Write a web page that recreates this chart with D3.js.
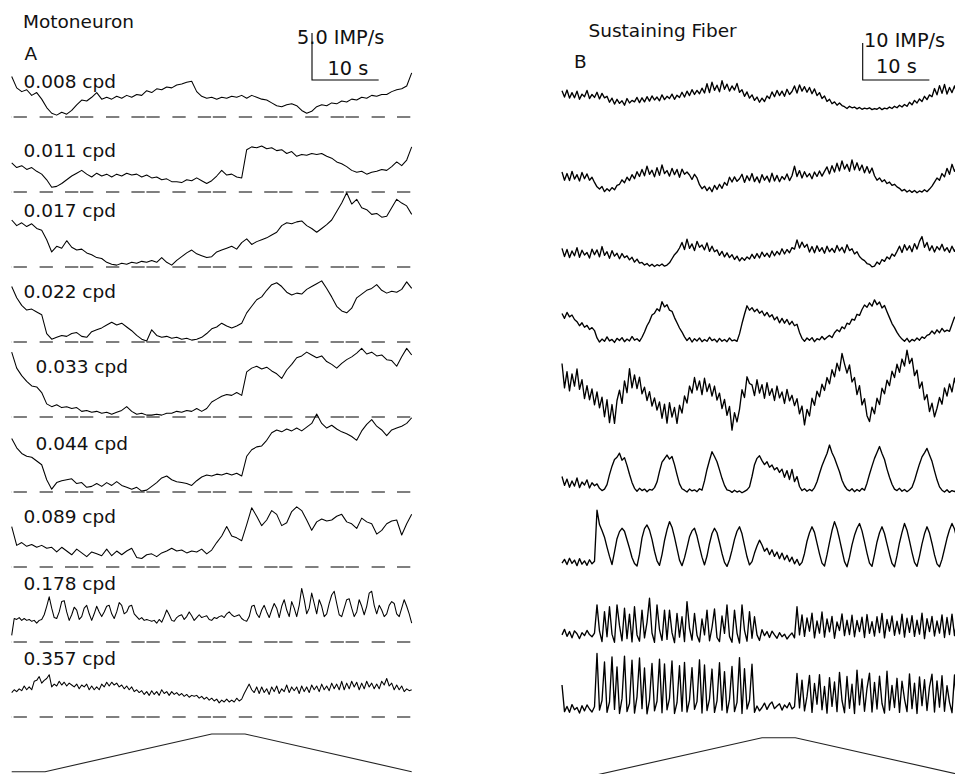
<!DOCTYPE html>
<html>
<head>
<meta charset="utf-8">
<script src="https://cdn.jsdelivr.net/npm/d3@7"></script>
<style>
  body { margin: 0; background: #fff; }
  svg text { font-family: "DejaVu Sans", sans-serif; font-size: 18.5px; fill: #111; }
  svg text.cal { font-size: 19.3px; }
</style>
</head>
<body>
<svg id="chart" width="955" height="774"></svg>
<script>
// Each sweep covers 60 s; every series below is sampled evenly across it (IMP/s).
const SWEEP_SECONDS = 60;

const spatialFreqLabels = ["0.008 cpd", "0.011 cpd", "0.017 cpd", "0.022 cpd", "0.033 cpd",
                           "0.044 cpd", "0.089 cpd", "0.178 cpd", "0.357 cpd"];

// Panel A: motoneuron firing rate (IMP/s)
const mn008 = [4.3,3.1,2.7,2.9,2.3,2.6,1.9,1.0,0.4,0.2,0.5,0.3,0.7,1.3,1.8,1.7,2.1,2.6,1.9,2.1,1.9,2.2,2.0,2.3,2.1,2.4,2.3,2.8,2.6,3.0,2.9,3.2,3.1,3.4,3.5,3.7,3.8,2.7,2.2,2.0,2.1,1.9,2.1,2.0,2.2,2.1,2.3,2.0,2.3,2.1,1.9,1.8,1.5,1.2,1.1,1.3,1.4,1.2,0.7,0.4,0.6,1.1,1.3,1.2,1.5,1.4,1.7,1.6,1.9,1.8,2.1,2.0,2.3,2.2,2.4,2.4,2.7,2.9,3.0,3.3,4.7];
const mn011 = [3.1,2.6,2.8,2.4,2.6,2.2,1.9,1.3,0.5,0.6,0.9,1.3,1.7,2.0,2.3,1.9,1.6,2.0,1.7,1.9,1.6,1.9,1.7,2.0,1.8,1.9,1.6,1.8,1.5,1.6,1.3,1.4,1.1,1.1,1.0,1.3,1.2,1.5,1.2,0.9,1.2,1.7,2.3,1.8,1.9,1.6,1.5,4.5,4.8,4.7,4.9,4.6,4.7,4.4,4.5,4.1,4.3,3.8,4.0,3.9,4.1,4.0,4.1,3.8,3.6,3.2,3.0,2.7,2.3,2.1,2.2,1.9,2.1,2.2,2.4,2.3,2.7,3.2,2.8,3.4,4.8];
const mn017 = [5.0,4.4,4.7,4.3,4.6,4.1,3.9,2.9,1.6,2.2,2.0,2.8,2.1,1.8,1.9,1.5,1.3,1.0,0.9,0.5,0.3,0.2,0.4,0.3,0.5,0.4,0.6,0.5,0.7,0.5,1.0,0.5,0.2,0.7,1.1,1.5,1.8,1.4,1.2,1.0,1.1,1.6,1.8,2.0,2.2,1.9,2.6,3.0,2.4,2.7,2.9,3.1,3.4,3.7,4.4,4.7,4.6,4.8,4.9,4.4,4.1,3.7,4.1,4.5,5.0,5.9,6.8,7.9,6.7,7.2,6.3,6.1,5.6,5.7,5.3,5.4,6.3,7.2,6.8,6.5,5.6];
const mn022 = [5.9,4.7,3.9,3.4,3.5,3.2,2.9,0.9,0.3,0.5,0.7,0.6,0.9,1.0,0.6,0.5,1.1,1.3,1.5,1.8,2.1,1.8,2.0,1.6,1.2,0.7,0.3,0.1,1.3,0.7,0.5,0.6,0.4,0.5,0.3,0.4,0.2,0.3,0.5,0.9,1.4,1.6,2.0,1.7,1.5,1.7,2.0,3.1,3.8,4.5,4.8,5.5,6.1,6.3,5.9,5.3,5.0,5.2,5.1,5.6,5.9,6.2,6.5,5.7,4.8,3.8,3.3,3.1,3.6,4.7,5.1,5.5,5.7,6.1,5.5,5.2,5.4,5.3,5.6,6.4,5.7];
const mn033 = [6.9,5.2,4.4,3.8,3.3,3.2,2.6,1.4,1.1,1.3,1.0,1.1,0.9,1.0,0.6,0.7,0.5,0.6,0.4,0.5,0.3,0.5,0.7,1.1,0.6,0.3,0.4,0.2,0.2,0.3,0.2,0.4,0.4,0.6,0.5,0.7,0.6,0.9,0.6,0.9,1.6,1.9,2.2,2.4,2.3,2.6,2.3,4.8,5.2,5.4,5.1,5.3,4.9,4.6,4.1,5.0,5.6,6.3,6.5,6.9,6.6,6.3,6.5,5.9,5.6,5.2,5.7,6.1,6.4,6.8,7.3,6.7,6.9,6.5,6.6,6.1,6.0,5.4,6.4,7.3,6.6];
const mn044 = [5.7,4.7,4.1,3.8,3.7,3.3,2.9,1.3,0.3,1.0,1.2,1.3,1.4,0.9,1.0,0.5,0.6,0.9,0.6,1.0,0.7,1.1,0.7,0.5,0.3,0.5,0.1,0.2,0.6,1.0,1.5,1.7,1.3,1.1,1.0,0.9,0.7,1.2,1.6,1.8,1.7,1.9,1.8,2.0,1.8,2.0,1.7,3.8,4.5,4.8,4.9,5.5,6.3,6.6,6.4,6.7,6.5,6.8,6.5,6.9,7.3,8.3,7.3,6.8,7.1,6.7,6.4,6.2,5.9,5.5,6.5,7.2,7.7,7.0,6.6,6.0,6.6,6.8,7.0,7.3,7.9];
const mn089 = [4.3,2.3,2.6,2.2,2.4,2.1,2.3,2.0,2.1,1.6,2.1,1.7,1.3,1.9,1.5,1.1,1.6,1.4,1.2,1.9,1.2,1.7,1.3,1.7,2.0,1.0,0.9,1.3,1.4,1.1,1.5,1.7,2.0,1.7,1.8,1.5,1.7,1.6,1.9,1.4,1.8,2.6,3.3,4.3,3.3,3.1,2.8,4.5,6.3,5.4,4.4,5.0,6.0,5.6,4.4,4.7,5.9,6.4,6.0,5.0,3.9,4.8,5.1,4.9,5.0,5.4,5.6,4.8,4.6,4.1,5.2,4.8,4.6,3.5,3.9,4.6,4.9,5.0,3.4,4.6,5.6];
const mn178 = [0.7,2.5,2.4,2.6,2.3,2.5,2.3,2.4,2.2,2.3,2.0,2.3,2.4,2.9,3.8,4.8,3.6,2.6,2.5,3.2,4.3,4.4,3.2,2.3,2.9,3.7,3.4,2.4,2.7,3.6,3.9,3.0,2.3,3.0,3.8,3.2,2.7,3.2,3.8,3.9,3.0,2.5,3.2,4.2,3.9,3.0,3.2,3.8,3.9,3.0,2.7,2.4,2.6,2.3,2.4,2.3,2.2,2.3,2.0,2.4,2.1,2.7,3.4,2.9,2.3,2.2,2.6,2.8,2.9,2.4,2.7,3.2,2.8,2.3,2.6,2.9,2.6,2.7,2.8,2.4,2.3,2.6,2.5,2.7,2.8,2.6,3.0,3.2,2.9,2.7,2.8,2.9,2.5,2.3,2.2,2.7,3.8,3.9,3.0,2.6,3.4,3.9,3.2,2.6,3.4,4.1,3.6,2.6,3.8,4.5,3.4,2.7,4.3,3.6,2.7,3.9,5.7,4.5,3.0,3.6,5.2,4.1,3.0,4.5,3.8,2.7,3.0,4.1,5.0,5.4,4.1,2.9,2.7,3.6,4.5,4.6,3.6,2.7,3.2,4.5,3.8,2.9,3.8,5.2,5.4,3.9,3.0,3.9,3.4,2.7,3.0,3.9,4.3,4.1,3.0,2.7,3.6,4.5,3.8,3.0,2.0];
const mn357 = [2.6,2.9,2.7,3.0,2.8,3.3,2.9,3.2,2.9,3.8,3.9,4.3,3.6,3.9,4.1,4.5,3.2,3.5,3.3,3.8,3.4,3.7,3.3,3.6,3.4,3.2,3.5,3.0,3.4,3.2,3.5,2.9,3.3,2.9,3.2,2.9,3.5,3.2,3.7,3.3,3.7,3.4,3.6,3.2,3.4,3.0,3.3,2.9,3.2,2.7,2.9,2.6,2.8,2.4,2.7,2.3,2.8,2.4,2.7,2.3,2.9,2.5,2.7,2.3,2.7,2.4,2.6,2.3,2.5,2.2,2.4,2.1,2.3,2.2,2.3,2.0,2.2,1.9,2.1,1.8,2.0,1.7,1.9,1.5,1.8,1.6,1.9,1.6,1.8,1.6,2.0,1.7,1.9,2.5,3.0,3.5,2.9,2.6,3.2,2.5,3.2,2.6,3.0,2.4,3.2,2.7,3.3,2.5,3.0,2.7,3.4,2.6,3.2,2.8,3.2,2.5,3.3,2.7,3.2,2.6,3.4,2.9,3.3,2.7,3.5,2.9,3.3,2.8,3.6,3.0,3.5,2.9,3.8,2.9,3.6,3.0,3.8,3.2,3.7,2.9,3.6,3.0,3.8,3.2,3.6,3.0,3.5,3.0,3.8,3.4,4.1,3.3,3.6,2.9,3.4,2.9,3.3,2.7,3.0,2.8,2.9];

// Panel B: sustaining fiber firing rate (IMP/s)
const sf008 = [7.9,6.2,8.1,5.9,7.4,6.0,7.8,5.6,7.0,6.3,8.0,5.8,6.9,6.1,7.5,5.7,7.2,6.0,6.4,4.8,5.9,4.3,5.6,4.5,5.2,4.0,5.8,4.6,5.3,4.9,6.1,4.7,6.0,4.9,6.3,5.1,6.5,5.4,6.2,5.2,6.8,5.5,6.4,5.8,7.0,5.6,6.7,6.1,7.5,6.2,7.8,6.6,8.2,6.9,8.0,7.1,8.6,7.3,9.8,7.4,10.2,8.0,9.4,7.6,10.6,8.3,9.7,7.8,9.2,8.1,9.9,7.5,8.2,6.4,7.6,5.9,6.8,5.3,6.2,4.8,5.9,5.0,6.5,5.8,7.6,6.3,8.0,6.6,7.8,6.4,8.3,6.9,7.7,9.2,7.3,9.5,7.8,9.0,7.5,8.8,7.1,8.4,6.6,7.4,5.8,6.5,5.0,5.6,4.4,4.9,4.0,4.6,3.9,3.6,3.1,3.7,3.3,3.5,3.0,3.4,2.9,3.2,3.0,3.3,2.8,3.1,2.9,3.4,2.8,3.2,3.0,3.5,3.1,3.7,3.3,4.0,3.5,4.2,3.7,4.8,4.1,5.3,4.6,5.7,5.0,6.4,5.5,6.8,6.3,8.5,6.8,9.3,7.2,9.6,7.0,8.8,7.4,9.2,7.1,8.6,7.6];
const sf011 = [6.2,4.0,5.8,3.9,6.4,4.3,5.5,3.8,6.1,4.4,5.7,4.0,4.8,3.4,2.2,1.6,2.3,0.9,1.7,1.1,2.0,1.4,2.6,2.9,4.1,3.3,4.8,3.9,5.5,4.4,6.3,5.0,6.9,5.2,7.8,5.6,6.7,4.9,7.4,5.3,8.1,5.8,6.6,5.1,7.2,5.5,6.9,4.8,7.0,5.6,6.2,5.4,4.2,5.6,4.6,2.8,1.7,2.4,1.2,2.1,0.9,2.6,1.5,2.9,1.8,3.4,2.6,4.8,3.5,4.9,3.7,4.4,5.6,3.4,5.2,3.9,5.8,3.6,4.9,3.3,5.5,4.0,5.1,3.5,5.9,3.8,5.3,3.6,5.0,4.2,5.7,3.9,5.2,7.8,5.0,6.6,4.6,6.3,4.9,5.8,4.4,6.2,5.0,6.5,5.1,6.4,7.6,5.7,7.9,6.2,8.6,6.5,9.2,7.0,8.3,6.4,9.5,6.8,8.7,6.6,8.1,6.0,7.7,5.9,7.3,5.2,4.0,4.6,3.6,4.1,3.1,3.5,2.6,2.9,2.2,1.8,1.1,1.5,0.8,1.3,0.7,1.2,0.6,1.1,0.8,1.4,0.9,1.6,2.4,3.5,4.6,4.0,5.8,4.9,7.2,5.6,8.3,6.4,7.6,6.1,7.9];
const sf017 = [5.3,3.1,5.0,2.8,4.6,3.3,5.5,2.9,4.8,3.5,4.2,2.7,5.1,3.6,4.9,3.0,5.8,3.4,4.4,2.6,4.7,3.2,4.0,2.5,3.9,2.8,3.3,2.2,2.9,1.6,2.4,1.3,1.5,0.8,1.2,0.5,1.0,0.4,0.9,0.6,1.1,0.5,0.8,1.4,2.5,3.6,4.3,5.4,6.9,5.0,7.8,5.3,6.5,4.7,7.2,5.6,6.2,4.9,6.8,4.5,5.9,4.4,4.9,3.4,4.5,3.0,4.1,2.8,3.6,2.3,3.2,1.9,2.8,2.1,3.0,2.4,3.7,2.6,3.9,2.7,4.3,3.1,4.0,2.9,4.6,3.3,4.5,3.6,5.2,3.8,5.0,4.1,5.5,5.1,7.6,5.4,7.0,5.6,6.4,4.3,5.8,4.1,6.0,4.5,5.5,4.0,5.9,4.4,5.3,4.2,6.1,4.6,5.6,4.1,6.3,4.7,5.2,3.8,4.4,3.1,2.4,2.0,1.2,1.0,0.3,0.5,1.6,1.0,2.3,1.8,3.0,2.4,3.8,3.2,4.5,5.9,4.2,6.3,4.8,6.0,4.4,6.6,5.1,7.2,8.5,5.6,6.9,4.7,6.0,4.3,5.8,4.9,6.4,4.6,5.5,4.2,5.9,4.5,5.7,4.3,5.4];
const sf022 = [8.5,7.2,8.8,7.6,8.1,6.9,6.3,5.2,6.0,4.8,5.3,4.2,4.7,3.9,1.9,0.8,1.6,1.0,2.2,1.1,1.5,0.7,1.8,1.2,2.0,0.9,1.6,1.1,2.3,1.3,1.7,1.0,2.1,3.5,5.2,6.4,8.1,8.6,9.8,9.2,11.7,10.3,10.9,9.4,9.1,7.4,6.0,4.6,3.5,2.2,1.2,2.0,0.8,1.7,1.1,1.9,0.9,1.5,1.0,2.1,1.2,1.6,0.8,1.8,1.0,1.5,0.9,1.9,1.1,1.4,1.0,3.0,5.8,8.3,10.6,9.4,10.1,9.0,9.7,8.6,9.2,7.9,8.8,7.6,8.2,6.8,7.6,6.0,7.2,5.9,6.9,5.5,6.4,5.2,5.6,3.4,1.8,1.0,1.9,1.3,2.0,0.9,1.7,1.4,2.3,1.5,2.1,2.6,2.0,3.3,4.1,3.6,4.9,4.4,5.9,5.6,7.0,6.7,8.3,8.0,9.6,10.8,10.2,11.4,10.5,12.2,10.9,11.6,10.0,10.7,9.0,7.4,5.8,4.7,3.4,2.4,1.6,1.0,1.8,0.8,1.5,1.1,1.9,1.3,2.2,1.8,2.6,2.9,3.8,3.0,4.1,3.3,4.5,3.6,4.0,3.7,5.6,7.5,6.8,7.9,7.2];
const sf033 = [19.6,13.0,17.4,12.2,16.8,13.5,18.1,12.6,15.2,10.1,13.6,9.8,12.7,8.4,11.9,7.6,10.5,5.2,9.8,3.6,8.5,3.4,9.6,12.4,8.8,14.9,11.7,18.2,13.0,16.5,12.8,15.9,11.4,13.2,9.6,12.0,8.1,10.3,7.0,9.2,4.8,8.6,3.5,9.0,5.1,7.7,3.4,8.3,6.2,10.8,8.9,13.5,11.6,15.8,12.4,14.9,11.2,15.6,12.0,14.1,10.8,13.5,9.7,11.6,7.4,9.9,5.6,8.0,1.6,6.3,3.8,7.2,12.5,10.4,16.0,14.2,13.8,10.9,15.2,11.6,13.9,10.2,14.4,11.0,12.8,9.6,13.5,10.3,11.9,8.8,12.6,9.5,11.0,8.2,10.1,6.0,8.1,3.0,7.2,5.4,10.2,8.3,12.1,10.6,14.0,12.3,15.8,14.1,17.9,16.0,19.7,17.6,22.3,19.5,17.0,19.2,14.6,15.8,11.2,13.6,8.4,10.1,5.5,3.9,7.8,6.0,10.2,8.5,12.9,11.4,15.1,13.6,17.5,15.8,19.4,17.2,20.8,18.9,23.2,19.6,21.0,16.3,17.8,12.9,14.6,9.8,11.2,6.6,8.9,5.2,7.5,10.4,8.6,13.0,10.8,14.1,11.9,15.6,12.4,14.9,13.2];
const sf044 = [5.0,2.6,4.3,2.1,3.8,2.4,4.6,2.0,3.5,2.7,4.1,1.9,3.3,2.5,3.0,1.8,1.2,1.6,2.8,5.5,7.8,9.6,10.2,11.3,9.4,10.1,8.0,5.6,3.4,1.8,1.0,1.8,1.2,1.6,0.9,1.5,1.3,2.0,3.5,6.4,8.9,9.8,10.8,9.7,10.4,8.2,5.5,3.0,1.7,1.3,0.8,1.6,1.1,1.4,0.9,1.7,1.3,3.8,6.9,9.4,11.7,10.4,9.0,6.8,4.5,2.6,1.4,1.2,0.7,1.3,0.8,1.1,0.6,1.0,1.4,2.2,5.0,8.2,9.9,10.6,9.3,8.2,9.0,7.5,8.1,6.8,7.4,6.1,7.0,4.8,6.6,4.2,6.9,3.6,5.0,2.3,1.2,1.7,1.0,1.5,1.1,2.0,3.6,5.8,7.9,9.6,11.2,13.5,11.4,10.0,8.1,6.3,4.0,2.5,1.5,1.1,1.7,0.9,1.5,1.0,1.8,1.3,3.2,5.6,7.8,9.9,11.5,13.1,11.2,9.6,7.0,4.8,2.9,1.6,1.2,1.8,1.0,1.5,0.9,1.4,2.1,3.9,6.2,8.4,10.3,11.4,12.6,10.8,9.1,6.5,4.1,2.2,1.3,0.8,1.4,0.7,1.2,0.9,1.5,1.0,1.8];
const sf089 = [1.6,2.6,1.2,2.9,1.5,2.4,0.9,2.8,1.3,2.2,1.0,2.5,1.4,2.1,15.9,12.0,10.4,8.6,5.9,3.4,1.2,4.6,8.2,10.1,11.0,10.2,7.9,5.6,3.1,1.5,0.8,4.0,8.4,10.9,11.9,10.5,8.0,4.8,2.2,1.0,3.9,7.7,10.6,12.8,11.3,8.6,5.5,2.4,0.9,3.0,5.8,8.7,10.3,11.0,8.9,6.0,3.2,1.1,3.5,6.9,9.6,11.0,9.8,7.1,4.2,1.8,0.7,2.5,5.1,8.0,10.2,11.4,9.5,6.4,3.3,1.1,2.0,4.3,6.2,7.8,6.5,4.8,5.6,3.9,5.2,3.4,4.6,2.8,4.3,2.5,3.7,2.0,3.2,1.4,2.6,1.0,1.8,4.2,7.5,9.8,11.4,9.9,7.0,4.1,1.6,0.8,3.8,7.2,10.4,12.8,10.9,8.1,5.0,2.0,0.6,3.2,6.5,9.1,11.0,12.3,10.3,7.4,4.3,1.6,0.7,3.9,7.3,9.8,11.4,9.6,6.8,4.0,1.5,0.6,3.6,7.1,9.9,12.3,10.5,7.6,4.5,1.8,0.7,3.5,6.8,9.5,11.4,9.7,6.9,3.8,1.4,0.6,2.6,5.4,8.3,10.6,12.3,10.8,8.0,5.1,2.4];
const sf178 = [3.0,4.5,2.6,3.9,2.2,4.1,3.3,2.0,3.6,2.8,4.2,3.1,2.5,3.5,11.1,4.0,1.2,9.3,2.5,10.6,3.2,1.0,11.1,5.5,1.4,10.2,2.0,8.6,1.1,10.6,3.0,1.3,9.7,2.2,6.4,12.9,3.5,1.0,11.1,4.4,1.5,9.7,1.8,9.7,3.6,0.9,8.8,2.4,7.9,1.2,12.0,4.8,1.6,8.8,2.9,1.1,7.3,3.0,9.7,1.4,5.0,10.0,2.3,1.2,8.1,3.4,11.1,2.6,1.0,9.7,3.5,0.8,11.1,4.2,1.3,9.3,2.1,7.9,3.0,1.5,4.4,2.8,3.9,2.3,4.0,3.0,2.1,3.6,2.5,3.2,1.9,2.8,3.5,2.2,10.6,3.0,8.4,2.6,7.6,4.0,8.9,2.2,6.8,3.5,9.2,2.4,7.3,3.8,8.0,2.1,6.5,4.2,8.7,2.8,7.0,3.1,8.3,2.5,6.9,3.9,7.8,2.3,8.5,3.4,6.6,2.7,7.9,3.6,8.8,2.2,7.2,4.0,8.1,2.9,6.7,3.3,8.6,2.4,7.5,3.7,8.2,2.6,7.0,3.2,8.9,2.0,7.4,3.9,8.0,2.7,6.8,3.5,8.4,2.3,7.7,3.1,8.6,2.8,7.1,3.6,6.9];
const sf357 = [9.2,2.0,3.4,1.8,3.9,2.5,3.1,1.6,3.6,2.2,3.8,2.7,1.9,3.3,17.7,2.4,5.0,15.4,1.8,4.6,16.8,2.6,14.1,1.5,5.5,17.0,2.0,4.2,15.9,1.6,6.0,16.5,2.8,13.8,1.4,5.2,15.0,2.2,4.8,16.2,1.7,14.9,2.5,5.6,15.7,1.5,4.4,14.4,2.1,15.3,1.9,5.1,13.9,2.6,4.7,16.0,1.6,14.6,2.3,5.4,13.5,1.8,4.9,15.2,2.4,12.8,1.7,5.3,14.2,2.0,4.5,16.6,1.5,13.6,2.7,5.0,14.8,1.8,3.5,2.2,3.1,4.3,2.6,3.9,4.6,2.8,3.5,4.1,2.4,3.8,3.0,4.4,2.7,3.3,12.3,3.0,10.5,2.2,6.1,11.8,1.8,9.6,4.0,12.0,2.5,8.8,1.6,11.2,3.4,10.0,2.0,12.6,5.0,1.7,11.5,2.9,9.4,1.5,13.2,3.8,10.8,2.1,8.3,12.4,1.9,9.9,2.7,11.6,4.2,1.6,12.9,2.4,9.1,3.1,11.0,1.8,10.2,5.4,2.0,12.2,2.8,9.7,1.5,11.4,3.6,10.6,2.3,8.7,12.1,1.9,10.3,3.2,11.7,2.1,9.0,4.5,1.7,11.9,2.6,10.1,3.0];

// Stimulus: drifting grating velocity profile (relative level vs. time, s)
const stimTime  = [0, 5, 30, 35, 60];
const stimLevel = [0, 0, 1, 1, 0];

// Calibration bars
const scaleBarA = { rate: 5, seconds: 10, label: "5.0 IMP/s" };
const scaleBarB = { rate: 10, seconds: 10, label: "10 IMP/s" };

const motoneuronSeries = [mn008, mn011, mn017, mn022, mn033, mn044, mn089, mn178, mn357];
const sustainingSeries = [sf008, sf011, sf017, sf022, sf033, sf044, sf089, sf178, sf357];

// ---- layout ----
const svg = d3.select("#chart");
const xA = d3.scaleLinear().domain([0, SWEEP_SECONDS]).range([11.7, 411.7]);
const xB = d3.scaleLinear().domain([0, SWEEP_SECONDS]).range([562, 962]);
const yA = d3.scaleLinear().domain([0, 5]).range([0, -47]);   // offset from row zero line
const yB = d3.scaleLinear().domain([0, 10]).range([0, -37]);

const rowZeroA = [117, 192, 267, 342, 417, 492, 567, 642, 717];
const rowZeroB = [120, 195, 268, 345, 436, 495, 569, 646, 719];
const labelX   = [23.5, 23.5, 23.5, 23.5, 35.5, 35.5, 23.5, 23.5, 23.5];
const labelDy  = [-28.7, -35.3, -50.3, -43.7, -43.7, -42, -43.7, -52, -52];

function drawTrace(values, x, y, zero, width) {
  const dt = SWEEP_SECONDS / (values.length - 1);
  const line = d3.line()
    .x((d, i) => x(i * dt))
    .y(d => zero + y(d));
  svg.append("path")
    .attr("d", line(values))
    .attr("fill", "none")
    .attr("stroke", "#000")
    .attr("stroke-width", width)
    .attr("stroke-linejoin", "round");
}

// Panel A rows: zero-rate dashed reference, label, trace
motoneuronSeries.forEach((vals, k) => {
  svg.append("line")
    .attr("x1", xA(0)).attr("x2", xA(SWEEP_SECONDS))
    .attr("y1", rowZeroA[k]).attr("y2", rowZeroA[k])
    .attr("stroke", "#555").attr("stroke-width", 1.6)
    .attr("stroke-dasharray", "13.3 1.7 13.3 12.7 13.3 12.1")
    .attr("stroke-dashoffset", 13.1);
  svg.append("text")
    .attr("x", labelX[k]).attr("y", rowZeroA[k] + labelDy[k])
    .text(spatialFreqLabels[k]);
  drawTrace(vals, xA, yA, rowZeroA[k], 1.05);
});

// Panel B rows
sustainingSeries.forEach((vals, k) => {
  drawTrace(vals, xB, yB, rowZeroB[k], 1.35);
});

// Stimulus profiles under each panel
function drawStimulus(x, base, height) {
  const line = d3.line()
    .x((d, i) => x(stimTime[i]))
    .y(d => base - d * height);
  svg.append("path")
    .attr("d", line(stimLevel))
    .attr("fill", "none")
    .attr("stroke", "#222")
    .attr("stroke-width", 1.1);
}
drawStimulus(xA, 771.7, 37.7);
drawStimulus(xB, 775.2, 37.5);

// Calibration bars
function drawScaleBar(x, y, ox, oy, bar) {
  const w = x(bar.seconds) - x(0);
  const h = -y(bar.rate);
  svg.append("path")
    .attr("d", `M${ox},${oy - h}V${oy}H${ox + w}`)
    .attr("fill", "none").attr("stroke", "#000").attr("stroke-width", 1.1);
}
drawScaleBar(xA, yA, 312, 80, scaleBarA);
drawScaleBar(xB, yB, 862.7, 80, scaleBarB);

// Titles and calibration labels
const texts = [
  { t: "Motoneuron", x: 23, y: 28.3, c: "title" },
  { t: "A", x: 24.5, y: 59.5, c: "title" },
  { t: scaleBarA.label, x: 297, y: 43.5, c: "cal" },
  { t: scaleBarA.seconds + " s", x: 327.5, y: 75, c: "cal" },
  { t: "Sustaining Fiber", x: 588.5, y: 36.7, c: "title" },
  { t: "B", x: 574, y: 68.3, c: "title" },
  { t: scaleBarB.label, x: 864, y: 46.7, c: "cal" },
  { t: scaleBarB.seconds + " s", x: 876, y: 73.3, c: "cal" }
];
svg.selectAll("text.lbl").data(texts).enter().append("text")
  .attr("class", d => "lbl " + d.c)
  .attr("x", d => d.x).attr("y", d => d.y)
  .text(d => d.t);
</script>
</body>
</html>
